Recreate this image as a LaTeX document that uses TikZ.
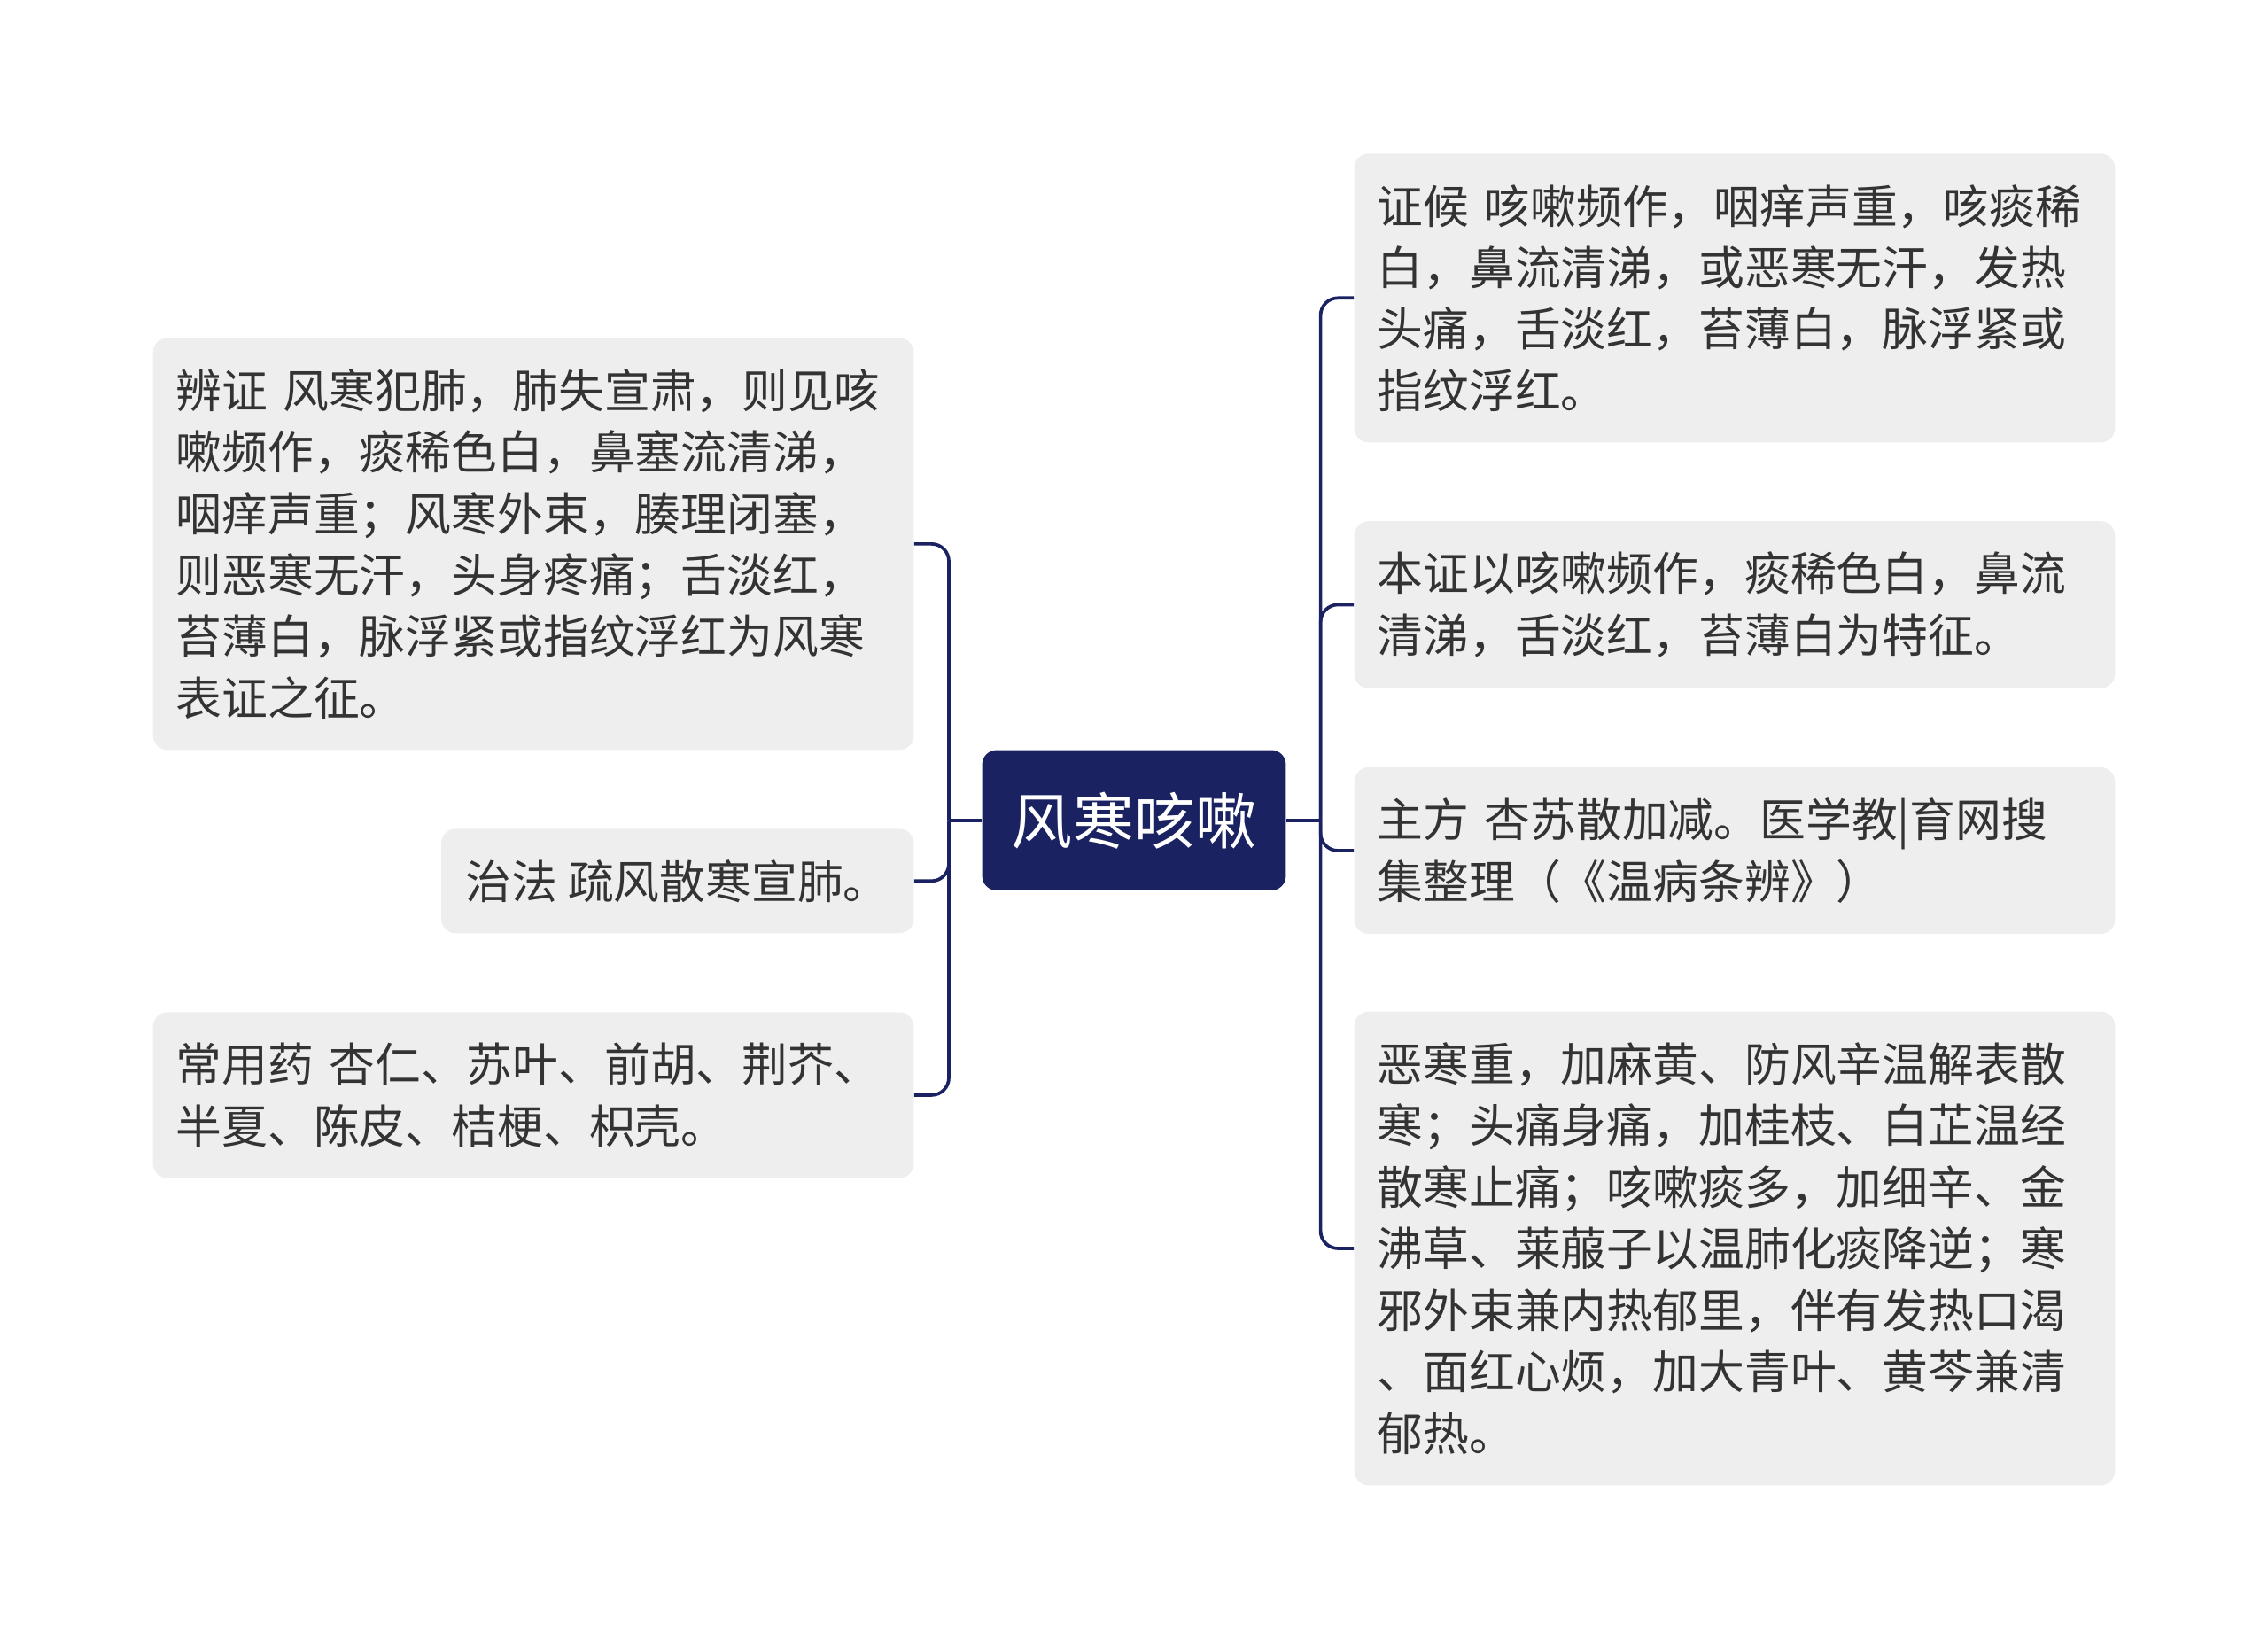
\documentclass[tikz,border=0pt]{standalone}
\usepackage{fontspec}
\newfontfamily\cjk{Noto Sans CJK SC}
\tikzset{
  topic/.style={draw=none, fill={rgb, 255:red, 26; green, 34; blue, 97}, text=white, rounded corners=7.5pt,
    minimum width=157.5pt, minimum height=72.75pt, inner sep=0pt, font=\cjk\fontsize{31.7pt}{38pt}\selectfont},
  leaf/.style={fill={rgb, 255:red, 238; green, 238; blue, 238}, text={rgb, 255:red, 51; green, 51; blue, 51},
    rounded corners=7.5pt, inner xsep=12pt, inner ysep=16pt, align=left,
    font=\cjk\fontsize{23.8pt}{31.9pt}\selectfont},
  wideleaf/.style={leaf, text width=370.5pt},
  branch/.style={draw={rgb, 255:red, 26; green, 34; blue, 97}, line width=1.7pt, rounded corners=9pt}
}
\begin{document}
\begin{tikzpicture}[x=0.75pt,y=0.75pt,yscale=-1,xscale=1]
\useasboundingbox (0,0) rectangle (1568,1134);

%Shape: Rounded Rect [id:root]
\node [topic] (root) at (784,567) {风寒咳嗽};

%Shape: Rounded Rect [id:left]
\node [wideleaf, anchor=east] (bianzheng) at (632,376) {辨证 风寒犯肺，肺失宣肃，则见咳\\嗽频作，痰稀色白，鼻塞流清涕，\\咽痒声重；风寒外束，腠理闭塞，\\则恶寒无汗，头身疼痛；舌淡红，\\苔薄白，脉浮紧或指纹浮红为风寒\\表证之征。};
\node [leaf, anchor=east, minimum width=245pt] (zhifa) at (632,609) {治法 疏风散寒宣肺。};
\node [wideleaf, anchor=east] (yaowu) at (632,757) {常用药 杏仁、苏叶、前胡、荆芥、\\半夏、陈皮、桔梗、枳壳。};

%Shape: Rounded Rect [id:right]
\node [wideleaf, anchor=west] (zhenghou) at (936,206) {证候 咳嗽频作，咽痒声重，咳痰稀\\白，鼻流清涕，或恶寒无汗，发热\\头痛，舌淡红，苔薄白，脉浮紧或\\指纹浮红。};
\node [wideleaf, anchor=west] (tezheng) at (936,418) {本证以咳嗽频作，痰稀色白，鼻流\\清涕，舌淡红，苔薄白为特征。};
\node [wideleaf, anchor=west] (zhufang) at (936,588) {主方 杏苏散加减。医学教|育网搜\\集整理（《温病条辨》）};
\node [wideleaf, anchor=west] (jiajian) at (936,863) {恶寒重，加麻黄、防风辛温解表散\\寒；头痛身痛，加桂枝、白芷温经\\散寒止痛；咳嗽痰多，加细辛、金\\沸草、莱菔子以温肺化痰降逆；寒\\邪外束兼内热郁里，伴有发热口渴\\、面红心烦，加大青叶、黄芩兼清\\郁热。};

%Straight Lines [id:joints]
\coordinate (lj) at (656,567);
\coordinate (rj) at (913,567);
\draw [branch] (root.west) -- (lj);
\draw [branch] (root.east) -- (rj);
\foreach \n in {bianzheng, zhifa, yaowu}
  \draw [branch] (lj) |- (\n.east);
\foreach \n in {zhenghou, tezheng, zhufang, jiajian}
  \draw [branch] (rj) |- (\n.west);

\end{tikzpicture}
\end{document}
